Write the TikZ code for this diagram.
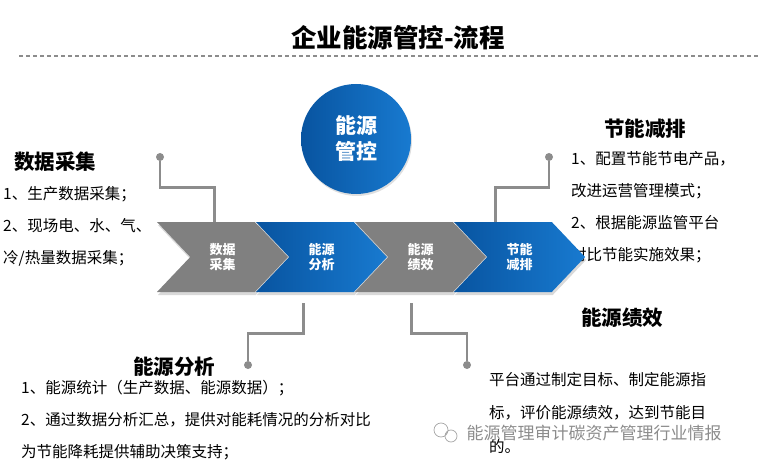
\documentclass[tikz,border=0pt]{standalone}
\usepackage{fontspec}
\setmainfont{Noto Sans CJK SC}
\usepackage{tikz}
\usetikzlibrary{shapes.symbols,shadows,positioning}
\definecolor{colBlueD}{RGB}{8,84,160}
\definecolor{colBlueL}{RGB}{24,122,208}
\definecolor{colGrey}{RGB}{128,128,128}
\definecolor{colLink}{RGB}{140,140,140}
\tikzset{
  chev/.style   = {signal, signal from=west, signal to=east,
                   signal pointer angle=93, minimum width=131pt,
                   minimum height=70pt, inner sep=0pt, text=white,
                   align=center, font=\fontsize{13}{15.5}\selectfont\bfseries,
                   drop shadow={opacity=0.3, shadow xshift=1pt, shadow yshift=-3pt}},
  gchev/.style  = {chev, fill=colGrey},
  bchev/.style  = {chev, left color=colBlueD, right color=colBlueL},
  hub/.style    = {circle, minimum size=110pt, inner sep=0pt, text=white,
                   left color=colBlueD, right color=colBlueL, align=center,
                   font=\fontsize{21}{26}\selectfont\bfseries,
                   drop shadow={opacity=0.25, shadow xshift=1pt, shadow yshift=-2pt}},
  title/.style  = {font=\fontsize{25.5}{28}\selectfont\bfseries},
  head/.style   = {font=\fontsize{20.5}{24}\selectfont\bfseries},
  body/.style   = {anchor=north west, inner sep=0pt, align=left,
                   font=\fontsize{15.5}{32}\selectfont},
  link/.style   = {draw=colLink, line width=2.6pt},
  enddot/.style = {circle, fill=colLink, minimum size=8pt, inner sep=0pt},
  wmark/.style  = {text=black!45, font=\fontsize{17}{20}\selectfont},
}

\begin{document}
\begin{tikzpicture}[x=1pt, y=-1pt]
\useasboundingbox (0,0) rectangle (758,468);

%% Title
\node[title] (title) at (398,38) {企业能源管控-流程};
\draw[colLink, line width=1.2pt, dash pattern=on 4pt off 3pt] (19,56) -- (758,56);

%% Side texts
\node[head] (hdata) at (55,162) {数据采集};
\node[body] (tdata) at (3,186)
  {1、生产数据采集；\\2、现场电、水、气、\\冷/热量数据采集；};

\node[head] (hsave) at (645,129) {节能减排};
\node[body] (tsave) at (571,151)
  {1、配置节能节电产品，\\改进运营管理模式；\\2、根据能源监管平台\\对比节能实施效果；};

\node[head] (hana) at (174,367) {能源分析};
\node[body] (tana) at (21,380)
  {1、能源统计（生产数据、能源数据）；\\2、通过数据分析汇总，提供对能耗情况的分析对比\\为节能降耗提供辅助决策支持；};

\node[head] (hperf) at (622,318) {能源绩效};
\node[body, font=\fontsize{15.5}{33.5}\selectfont] (tperf) at (489,372)
  {平台通过制定目标、制定能源指\\标，评价能源绩效，达到节能目\\的。};

%% Centre circle
\node[hub] (hub) at (356,139) {能源\\管控};

%% Process chevrons
\node[gchev] (c1) at (222.5,257) {数据\\采集};
\node[bchev] (c2) at (321.5,257) {能源\\分析};
\node[gchev] (c3) at (420.5,257) {能源\\绩效};
\node[bchev] (c4) at (519.5,257) {节能\\减排};

%% Connectors
\node[enddot] (d1) at (160,157) {};
\node[enddot] (d4) at (549,157) {};
\node[enddot] (d2) at (248,365) {};
\node[enddot] (d3) at (467,365) {};
\draw[link] ([xshift=-8pt]c1.north) -- ++(0,-34) -| (d1);
\draw[link] ([xshift=-24pt]c4.north) -- ++(0,-34) -| (d4);
\draw[link] ([xshift=-18pt,yshift=-11pt]c2.south) -- ++(0,30) -| (d2);
\draw[link] ([xshift=-9pt,yshift=-11pt]c3.south) -- ++(0,30) -| (d3);

%% Watermark
\draw[black!35, line width=0.7pt] (441,430) circle (7) (451,436) circle (6);
\node[wmark, anchor=west] (wm) at (463,433) {能源管理审计碳资产管理行业情报};

\end{tikzpicture}
\end{document}
